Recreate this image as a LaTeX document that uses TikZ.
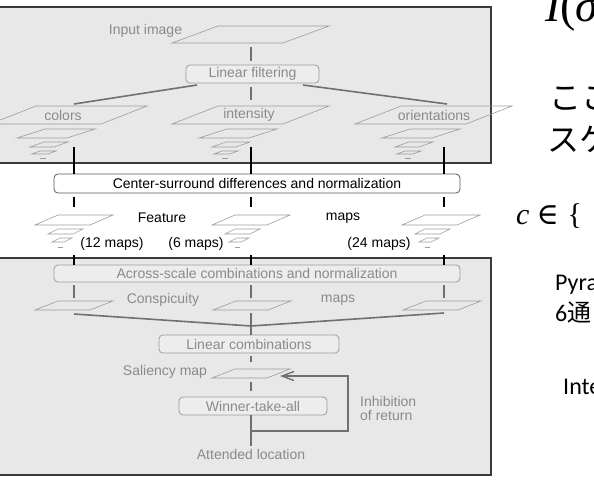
\documentclass[tikz,border=0pt]{standalone}
\usepackage{fontspec}
\setmainfont{Liberation Sans}
\newfontfamily\jpfont{Noto Sans CJK JP}
\newfontfamily\califont{Carlito}
\newfontfamily\slideserif{Liberation Serif}
\newfontfamily\symfont{DejaVu Serif}
\usepackage{tikz}
\usetikzlibrary{arrows.meta}
\definecolor{panelGray}{HTML}{E8E8E8}
\definecolor{frameGray}{HTML}{3A3A3A}
\definecolor{planeGray}{HTML}{9C9C9C}
\definecolor{labelGray}{HTML}{8A8A8A}
\definecolor{linkGray}{HTML}{707070}
\definecolor{stageFill}{HTML}{EDEDED}

\newcommand{\diagfont}{\fontsize{14}{14}\selectfont}

% image pyramid: #1,#2 = lower left corner of the largest level
\newcommand{\imgpyramid}[2]{%
  \begin{scope}[shift={(#1,#2)}]
    \draw[plane] (0,0) -- (111,0) -- (157,-18) -- (46,-18) -- cycle;
    \draw[plane] (27,14) -- (77,14) -- (105,5) -- (55,5) -- cycle;
    \draw[plane] (40,23) -- (64,23) -- (78,18) -- (54,18) -- cycle;
    \draw[plane] (42,30) -- (58,30) -- (66,27) -- (50,27) -- cycle;
    \draw[plane] (50,34) -- (56,34);
  \end{scope}}

% feature map pyramid
\newcommand{\featpyramid}[2]{%
  \begin{scope}[shift={(#1,#2)}]
    \draw[plane] (0,0) -- (55,0) -- (78,-10) -- (23,-10) -- cycle;
    \draw[plane] (13,9) -- (38,9) -- (48,4) -- (23,4) -- cycle;
    \draw[plane] (17,17) -- (29,17) -- (37,13) -- (25,13) -- cycle;
    \draw[plane] (23,22) -- (28,22);
  \end{scope}}

% single map
\newcommand{\featplane}[2]{%
  \draw[plane] (#1,#2) -- ++(55,0) -- ++(23,-9) -- ++(-55,0) -- cycle;}

\tikzset{
  panel/.style={fill=panelGray, draw=frameGray, line width=1.1pt},
  plane/.style={draw=planeGray, line width=0.6pt},
  stage/.style={draw=planeGray, line width=0.8pt, rounded corners=4pt, fill=stageFill,
    text=labelGray, inner sep=0pt, font=\diagfont},
  stageblack/.style={stage, draw=black!65, fill=white, text=black},
  glabel/.style={text=labelGray, font=\diagfont, inner sep=0pt},
  blabel/.style={text=black, font=\diagfont, inner sep=0pt},
  glink/.style={draw=linkGray, line width=1.6pt},
  blink/.style={draw=black, line width=1.6pt},
  sidetext/.style={inner sep=0pt, text=black},
}

\begin{document}
\begin{tikzpicture}[x=1pt, y=-1pt]
  \clip (0,0) rectangle (594,489);

  % Pre-attentive panel
  \draw[panel] (-5,7) rectangle (491,163);
  \draw[plane] (172,43) -- (283,43) -- (329,26) -- (218,26) -- cycle;
  \node[glabel] (inlabel) at (145.5,31) {Input image};
  \node[stage, minimum width=133pt, minimum height=18pt] (filter) at (252.5,74) {Linear filtering};
  \foreach \x in {-10,172,355} {\imgpyramid{\x}{124}}
  \node[glabel] (colors) at (63,115) {colors};
  \node[glabel] (intensity) at (249,115) {intensity};
  \node[glabel] (orient) at (434,115) {orientations};

  \coordinate (in-base) at (251,43);
  \coordinate (int-top) at (251,106);
  \coordinate (filt-l) at (197,85);
  \coordinate (filt-r) at (303,85);
  \coordinate (col-top) at (74,104);
  \coordinate (ori-top) at (447,104);
  \draw[glink, shorten <=4pt, shorten >=4pt] (in-base) -- (in-base |- filter.north);
  \draw[glink, shorten <=4pt, shorten >=6pt] (in-base |- filter.south) -- (int-top);
  \draw[glink] (filt-l) -- (col-top);
  \draw[glink] (filt-r) -- (ori-top);

  % Center-surround stage
  \node[stageblack, minimum width=406pt, minimum height=19pt] (cs) at (257,183.5)
    {Center-surround differences and normalization};
  \foreach \x in {74,251,444} {
    \coordinate (pyr-\x) at (\x,147);
    \coordinate (fm-\x) at (\x,207);
    \draw[blink] (pyr-\x) -- (pyr-\x |- cs.north);
    \draw[blink, shorten <=4pt] (pyr-\x |- cs.south) -- (fm-\x);
  }

  % Feature maps
  \featpyramid{35}{225}
  \featpyramid{212}{225}
  \featpyramid{402}{225}
  \node[blabel] (feature) at (162,218) {Feature};
  \node[blabel] (fmaps) at (343,218) {maps};
  \node[blabel] (n12) at (112,244) {(12 maps)};
  \node[blabel] (n6) at (196,244) {(6 maps)};
  \node[blabel] (n24) at (379,244) {(24 maps)};

  % Attentive panel
  \draw[panel] (-5,258) rectangle (491,475);
  \node[stage, minimum width=406pt, minimum height=17pt] (across) at (257,273.5)
    {Across-scale combinations and normalization};
  \foreach \x in {74,251,444} {
    \coordinate (fmb-\x) at (\x,255);
    \coordinate (csp-\x) at (\x,298);
    \draw[blink] (fmb-\x) -- (fmb-\x |- across.north);
    \draw[glink, shorten <=3pt] (fmb-\x |- across.south) -- (csp-\x);
  }

  % Conspicuity maps
  \featplane{35}{310}
  \featplane{213}{310}
  \featplane{403}{310}
  \node[glabel] (consp) at (163,300) {Conspicuity};
  \node[glabel] (cmaps) at (338,300) {maps};

  \coordinate (col-cb) at (74,314);
  \coordinate (int-cb) at (251,313);
  \coordinate (ori-cb) at (444,313);
  \coordinate (merge) at (251,326);
  \node[stage, minimum width=180pt, minimum height=18pt] (lincomb) at (249,344) {Linear combinations};
  \draw[glink] (col-cb) -- (merge) -- (ori-cb);
  \draw[glink] (int-cb) -- (int-cb |- lincomb.north);

  % Saliency map and selection
  \featplane{212}{378}
  \node[glabel] (saliency) at (165,372) {Saliency map};
  \coordinate (sal-top) at (251,369);
  \coordinate (sal-bot) at (251,378);
  \node[stage, minimum width=148pt, minimum height=18pt] (winner) at (253,406) {Winner-take-all};
  \node[glabel] (attend) at (251,454) {Attended location};
  \draw[glink, shorten <=3pt, shorten >=7pt] (sal-top |- lincomb.south) -- (sal-top);
  \draw[glink, shorten <=4pt, shorten >=6pt] (sal-bot) -- (sal-bot |- winner.north);
  \draw[glink, shorten >=3pt] (sal-bot |- winner.south) -- (sal-bot |- attend.north);

  % Inhibition of return loop
  \coordinate (loop-l) at (251,431);
  \coordinate (loop-br) at (348,431);
  \coordinate (loop-tr) at (348,376);
  \coordinate (sal-in) at (280,376);
  \draw[glink, line width=1.4pt, -{Straight Barb[length=12pt,width=9pt]}]
    (loop-l) -- (loop-br) -- (loop-tr) -- (sal-in);
  \node[glabel, align=left, anchor=west] (ior) at (360,408) {Inhibition\\of return};

  % Slide text on the right
  \node[sidetext, anchor=base west] (isig) at (545,22)
    {\slideserif\fontsize{46}{46}\selectfont\itshape I\upshape(\itshape σ};
  \node[sidetext, anchor=west] (jp1) at (549,99) {\jpfont\fontsize{32}{32}\selectfont ここ};
  \node[sidetext, anchor=west] (jp2) at (547,139) {\jpfont\fontsize{32}{32}\selectfont スケ};
  \node[sidetext, anchor=base west] (cset) at (516,224)
    {\slideserif\fontsize{30}{30}\selectfont\itshape c\upshape\hspace{7pt}{\symfont ∈}\hspace{9pt}\{};
  \node[sidetext, anchor=base west] (pyra) at (555,290) {\califont\fontsize{24}{24}\selectfont Pyra};
  \node[sidetext, anchor=base west] (six) at (555,321) {\califont\fontsize{24}{24}\selectfont 6{\jpfont 通}};
  \node[sidetext, anchor=base west] (inte) at (563,394) {\califont\fontsize{24}{24}\selectfont Inte};
\end{tikzpicture}
\end{document}
